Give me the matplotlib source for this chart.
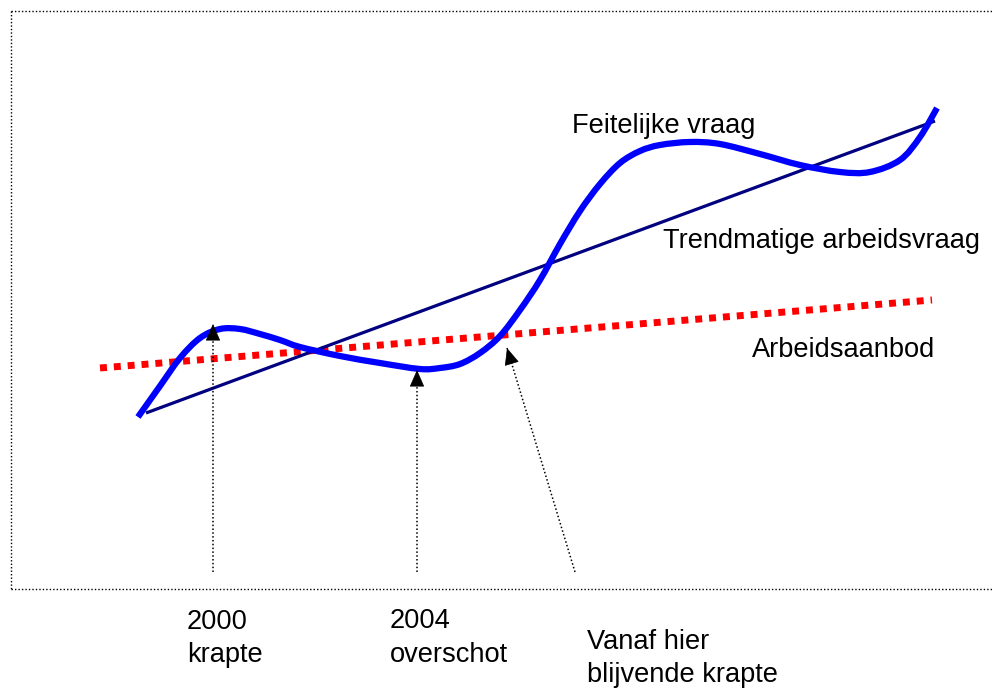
import matplotlib
matplotlib.use("Agg")
import matplotlib.pyplot as plt
from matplotlib.path import Path
from matplotlib.patches import PathPatch

plt.rcParams['font.family'] = ['Liberation Sans', 'DejaVu Sans']

# ---- data (drawing units: x to the right, y downward) ----
feitelijke_x = [138, 160, 180, 200, 220, 240, 260, 280, 300, 340, 380, 420,
                440, 460, 480, 500, 520, 540, 560, 580, 600, 620, 640, 660,
                690, 720, 760, 800, 840, 870, 900, 920, 937]
feitelijke_y = [417, 386, 358, 338, 329, 329, 334, 340, 347, 356, 363, 369,
                368, 364, 353, 336, 310, 280, 244, 211, 184, 163, 151, 145,
                142, 144, 154, 165, 172, 172, 160, 137, 108]

trend_x = [146, 935]
trend_y = [413, 121]

aanbod_x = [100, 932]
aanbod_y = [368, 300]

# annotation arrows: (tail, tip)
arrow_tails = [(213, 572), (417, 572), (575, 572)]
arrow_tips = [(213, 324), (417, 370), (507, 348)]

series_labels = ["Feitelijke vraag", "Trendmatige arbeidsvraag", "Arbeidsaanbod"]
series_label_pos = [(572, 133), (663, 248), (752, 357)]

bottom_labels = [["2000", "krapte"], ["2004", "overschot"], ["Vanaf hier", "blijvende krapte"]]
bottom_label_pos = [(187, 629), (390, 628), (587, 649)]


def smooth_path(xs, ys):
    """Bezier path through the given points (Catmull-Rom tangents)."""
    pts = list(zip(xs, ys))
    verts = [pts[0]]
    codes = [Path.MOVETO]
    n = len(pts)
    for i in range(n - 1):
        p0 = pts[i - 1] if i > 0 else pts[i]
        p1 = pts[i]
        p2 = pts[i + 1]
        p3 = pts[i + 2] if i + 2 < n else pts[i + 1]
        c1 = (p1[0] + (p2[0] - p0[0]) / 6.0, p1[1] + (p2[1] - p0[1]) / 6.0)
        c2 = (p2[0] - (p3[0] - p1[0]) / 6.0, p2[1] - (p3[1] - p1[1]) / 6.0)
        verts += [c1, c2, p2]
        codes += [Path.CURVE4, Path.CURVE4, Path.CURVE4]
    return Path(verts, codes)


# ---- figure ----
fig = plt.figure(figsize=(9.92, 6.92), dpi=100)
ax = fig.add_axes([0, 0, 1, 1])
ax.set_xlim(0, 992)
ax.set_ylim(692, 0)
ax.axis('off')

# dotted frame (top, left, bottom)
frame_kw = dict(color='black', lw=1.0, linestyle=(0, (1, 1.5)))
ax.plot([11, 995], [11, 11], **frame_kw)
ax.plot([11, 11], [11, 589], **frame_kw)
ax.plot([11, 995], [589, 589], **frame_kw)

# series
ax.plot(aanbod_x, aanbod_y, color='#ff0000', lw=5, linestyle=(0, (1, 1)),
        solid_capstyle='butt', dash_capstyle='butt', zorder=2)
ax.plot(trend_x, trend_y, color='#000080', lw=2.3, solid_capstyle='butt', zorder=3)
ax.add_patch(PathPatch(smooth_path(feitelijke_x, feitelijke_y), facecolor='none',
                       edgecolor='#0000ff', lw=4.5, capstyle='butt',
                       joinstyle='round', zorder=4))

# arrows
for (tx, ty), (hx, hy) in zip(arrow_tails, arrow_tips):
    ax.plot([tx, hx], [ty, hy], color='black', lw=1.1, linestyle=(0, (1, 1.5)), zorder=5)
    dx, dy = hx - tx, hy - ty
    L = (dx ** 2 + dy ** 2) ** 0.5
    sx, sy = hx - dx / L * 16, hy - dy / L * 16
    ax.annotate('', xy=(hx, hy), xytext=(sx, sy),
                arrowprops=dict(arrowstyle='-|>,head_length=0.55,head_width=0.24',
                                color='black', lw=0.5, shrinkA=0, shrinkB=0,
                                mutation_scale=20), zorder=6)

# labels
for txt, (x, y) in zip(series_labels, series_label_pos):
    ax.text(x, y, txt, fontsize=19.6, va='baseline', ha='left', color='black')

for lines, (x, y) in zip(bottom_labels, bottom_label_pos):
    for i, t in enumerate(lines):
        ax.text(x, y + i * 33.5, t, fontsize=19.6, va='baseline', ha='left', color='black')

fig.savefig('out.png', dpi=100)
